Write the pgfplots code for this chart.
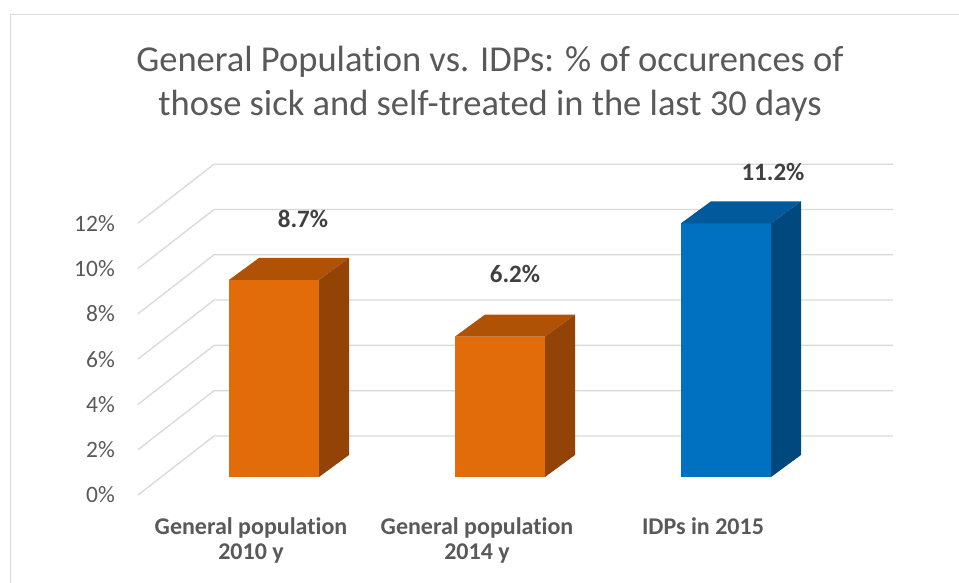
\documentclass[border=0pt]{standalone}
\usepackage{fontspec}
\setmainfont[Ligatures=NoCommon]{Carlito}
\usepackage{pgfplots}
\pgfplotsset{compat=1.18}
\usepackage{pgfplotstable}

\definecolor{framec}{HTML}{D9D9D9}
\definecolor{gridc}{HTML}{D9D9D9}
\definecolor{titlec}{HTML}{595959}
\definecolor{labelc}{HTML}{404040}
\definecolor{orfront}{HTML}{E36C0A}
\definecolor{ortop}{HTML}{B05206}
\definecolor{orside}{HTML}{944306}
\definecolor{blfront}{HTML}{0070C0}
\definecolor{bltop}{HTML}{005A9C}
\definecolor{blside}{HTML}{00487E}

\tikzset{vlabel/.style={text=labelc, font=\bfseries\fontsize{25}{30}\selectfont, inner sep=0pt}}

% bar values
\pgfplotstableread{
x y
0 8.7
1 6.2
}\genpop
\pgfplotstableread{
x y
2 11.2
}\idps

% top and side faces of a 3-D bar, drawn at the top-centre of the front face;
% \barval holds the bar value, 22.65pt is one percent on the y axis
\newcommand\declarebarcap[3]{%
  \pgfdeclareplotmark{#1}{%
    \pgfpathmoveto{\pgfqpoint{-45pt}{0pt}}%
    \pgfpathlineto{\pgfqpoint{45pt}{0pt}}%
    \pgfpathlineto{\pgfqpoint{75pt}{22pt}}%
    \pgfpathlineto{\pgfqpoint{-15pt}{22pt}}%
    \pgfpathclose
    \pgfsetfillcolor{#2}%
    \pgfusepath{fill}%
    \pgfpathmoveto{\pgfqpoint{45pt}{0pt}}%
    \pgfpathlineto{\pgfqpoint{75pt}{22pt}}%
    \pgfpathlineto{\pgfpoint{75pt}{22pt-\barval*22.65pt}}%
    \pgfpathlineto{\pgfpoint{45pt}{-\barval*22.65pt}}%
    \pgfpathclose
    \pgfsetfillcolor{#3}%
    \pgfusepath{fill}%
  }%
}
\declarebarcap{capor}{ortop}{orside}
\declarebarcap{capbl}{bltop}{blside}

\begin{document}
\begin{tikzpicture}
\useasboundingbox (0,0) rectangle (959pt,583pt);
\fill[white] (0,0) rectangle (959pt,583pt);
\draw[framec, line width=1.2pt] (10.8pt,0pt) -- (10.8pt,568.5pt) -- (959pt,568.5pt);

\node[text=titlec, font=\fontsize{36.5}{44}\selectfont, align=center]
  at (490pt,499pt) {General Population vs. IDPs: \% of occurences of\\those sick and self-treated in the last 30 days};

\begin{axis}[
  at={(138pt,88pt)}, anchor=south west,
  scale only axis, width=678pt, height=271.8pt,
  xmin=-0.5, xmax=2.5, ymin=0, ymax=12,
  enlargelimits=false, clip=false,
  axis line style={draw=none},
  major tick length=0pt,
  /pgf/number format/assume math mode=true,
  ytick={0,2,...,12},
  yticklabel={\pgfmathprintnumber{\tick}\%},
  yticklabel style={anchor=east, inner sep=0pt, xshift=-23pt,
    text=titlec, font=\fontsize{23.5}{28}\selectfont},
  xtick={0,1,2},
  xticklabels={{General population\\2010 y},{General population\\2014 y},{IDPs in 2015}},
  xticklabel style={anchor=north, inner sep=0pt, yshift=-22pt, align=center,
    text=titlec, font=\bfseries\fontsize{24}{25}\selectfont},
]
% floor-to-wall grid: diagonal on the side wall, then along the back wall
\pgfplotsinvokeforeach{0,2,...,12}{
  \draw[gridc, line width=1.3pt] (axis cs:-0.5,#1) -- ++(76pt,59pt) -- ++(679pt,0pt);
}
\addplot[ybar, bar width=90pt, bar shift=0pt, fill=orfront, draw=none,
  xshift=23pt, yshift=18pt, mark=capor,
  visualization depends on={y \as \barval}]
  table[x=x, y=y] {\genpop};
\addplot[ybar, bar width=90pt, bar shift=0pt, fill=blfront, draw=none,
  xshift=23pt, yshift=18pt, mark=capbl,
  visualization depends on={y \as \barval}]
  table[x=x, y=y] {\idps};
% value labels, placed above the top face of each bar
\node[vlabel] at (axis cs:0,8.7)  [xshift=52pt, yshift=79pt] {8.7\%};
\node[vlabel] at (axis cs:1,6.2)  [xshift=38pt, yshift=81pt] {6.2\%};
\node[vlabel] at (axis cs:2,11.2) [xshift=70pt, yshift=69pt] {11.2\%};
\end{axis}
\end{tikzpicture}
\end{document}
